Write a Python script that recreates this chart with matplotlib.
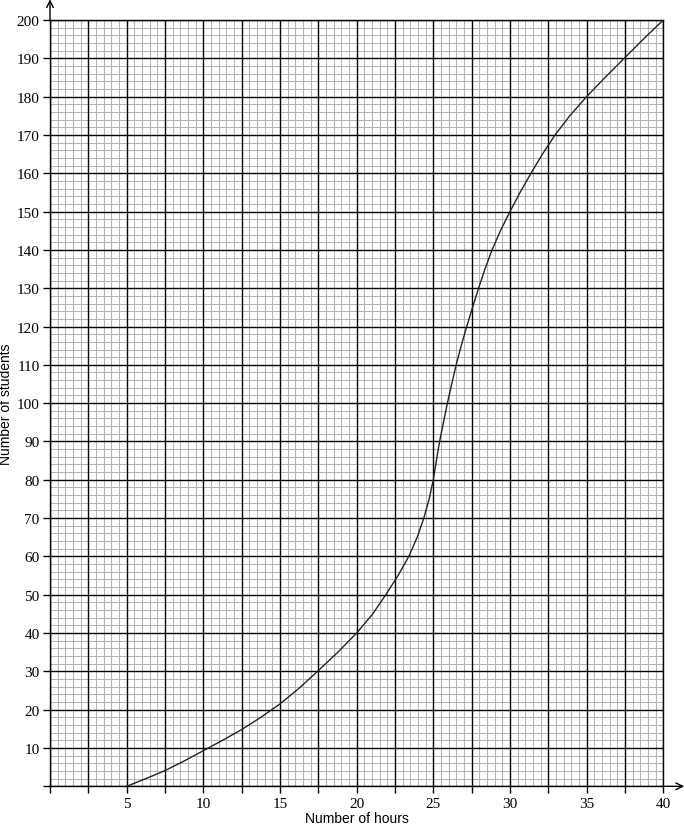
import matplotlib.pyplot as plt
from matplotlib.ticker import MultipleLocator, FixedLocator

# cumulative frequency curve
hours = [5, 6.25, 7.5, 8.75, 10, 11.25, 12.5, 13.75, 15, 16.25, 17.5,
         18.75, 20, 21.05, 21.9, 22.7, 23.4, 23.95, 24.38, 24.73, 25.0,
         25.2, 25.41, 25.66, 25.92, 26.2, 26.49, 26.82, 27.18, 27.56,
         27.95, 28.37, 28.83, 29.38, 30.0, 30.66, 31.37, 32.12, 32.94,
         33.9, 35.0, 36.2, 37.45, 38.7, 40]
students = [0, 2, 4.1, 6.6, 9.3, 12, 14.8, 18, 21.5, 25.6, 30.2,
            34.9, 40, 45, 50, 55, 60, 65, 70, 75, 80,
            85, 90, 95, 100, 105, 110, 115, 120, 125,
            130, 135, 140, 145, 150, 155, 160, 165, 170,
            175, 180, 185, 190, 195, 200]

x_ticks = [0, 2.5, 5, 7.5, 10, 12.5, 15, 17.5, 20, 22.5, 25, 27.5,
           30, 32.5, 35, 37.5, 40]
x_labels = ['', '', '5', '', '10', '', '15', '', '20', '', '25', '',
            '30', '', '35', '', '40']
y_ticks = list(range(0, 201, 10))
y_labels = [''] + [str(v) for v in range(10, 201, 10)]

fig = plt.figure(figsize=(6.84, 8.28), dpi=100)
ax = fig.add_axes([50 / 684, (828 - 787.3) / 828, 613.3 / 684, 766.3 / 828])

ax.set_xlim(0, 40)
ax.set_ylim(0, 200)

ax.xaxis.set_major_locator(FixedLocator(x_ticks))
ax.set_xticklabels(x_labels)
ax.yaxis.set_major_locator(FixedLocator(y_ticks))
ax.set_yticklabels(y_labels)
ax.xaxis.set_minor_locator(MultipleLocator(0.5))
ax.yaxis.set_minor_locator(MultipleLocator(2))

# fine grey grid underneath, heavy black grid on top of it
ax.grid(which='minor', color='#b4b4b4', linewidth=0.75, zorder=0)
ax.set_axisbelow(True)
ax.vlines(x_ticks, 0, 200, colors='black', linewidth=1.0, zorder=1)
ax.hlines(y_ticks, 0, 40, colors='black', linewidth=1.0, zorder=1)

ax.tick_params(which='major', direction='out', length=5, width=1.0,
               pad=2.5, labelsize=11)
ax.tick_params(which='minor', length=0)
for lab in ax.get_xticklabels() + ax.get_yticklabels():
    lab.set_family('Liberation Serif')

for s in ax.spines.values():
    s.set_linewidth(1.0)

ax.plot(hours, students, color='#222222', linewidth=1.0, zorder=3)

# axis arrows
ax.annotate('', xy=(0, 1.027), xytext=(0, 1.0), xycoords='axes fraction',
            arrowprops=dict(arrowstyle='->', lw=1.0, color='black',
                            shrinkA=0, shrinkB=0, mutation_scale=12))
ax.annotate('', xy=(1.034, 0), xytext=(1.0, 0), xycoords='axes fraction',
            arrowprops=dict(arrowstyle='->', lw=1.0, color='black',
                            shrinkA=0, shrinkB=0, mutation_scale=12))

ax.set_xlabel('Number of hours', family='Liberation Sans', fontsize=10,
              labelpad=1)
ax.set_ylabel('Number of students', family='Liberation Sans', fontsize=10)
ax.yaxis.set_label_coords(-0.0605, 0.5)

fig.savefig('out.png', dpi=100)
